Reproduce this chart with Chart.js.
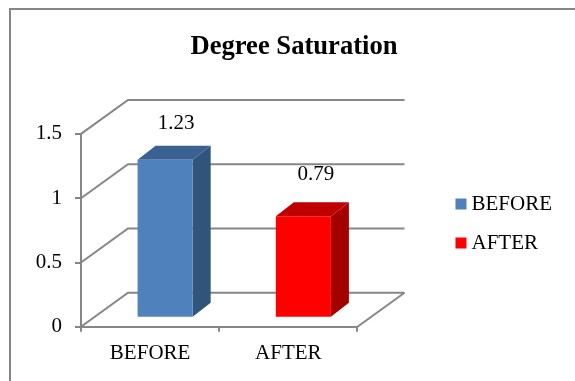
<!DOCTYPE html>
<html><head><meta charset="utf-8">
<style>html,body{margin:0;padding:0;background:#fff}canvas{display:block}</style>
<script src="https://cdn.jsdelivr.net/npm/chart.js@4"></script>
</head><body>
<canvas id="c" width="575" height="381"></canvas>
<script>
const categories = ["BEFORE", "AFTER"];
const beforeValues = [1.23, null];
const afterValues = [null, 0.79];
const seriesNames = ["BEFORE", "AFTER"];
const chartTitle = "Degree Saturation";

const GRID = "#868686", SERIF = "'Liberation Serif'";
const WALL = {dx: 47, dy: -34};      // depth of the 3D box
const SHIFT = {dx: 15, dy: -9};      // bars stand inside the floor
const BAR = {dx: 18, dy: -14};       // depth of a bar
const SHADES = [{side: "#31547B", top: "#3A6191"}, {side: "#A50000", top: "#BE0000"}];
const LABEL_NUDGE = [{dx: 11, dy: -36}, {dx: 12.5, dy: -42}];
const LEGEND_DROP = 36;

const threeD = {
  id: "threeD",
  afterLayout(chart) {
    chart.legend.top += LEGEND_DROP;
    chart.legend.bottom += LEGEND_DROP;
  },
  beforeDraw(chart) {
    const c = chart.ctx;
    c.save(); c.strokeStyle = GRID; c.lineWidth = 2;
    c.beginPath(); c.moveTo(10, 381); c.lineTo(10, 9); c.lineTo(575, 9); c.stroke();
    c.restore();
  },
  beforeDatasetsDraw(chart) {
    const c = chart.ctx, x = chart.scales.x, y = chart.scales.y;
    c.save(); c.strokeStyle = GRID; c.lineWidth = 2;
    y.ticks.forEach(t => {
      const py = y.getPixelForValue(t.value);
      c.beginPath();
      c.moveTo(x.left, py);
      c.lineTo(x.left + WALL.dx, py + WALL.dy);
      c.lineTo(x.right + WALL.dx, py + WALL.dy);
      c.stroke();
    });
    const p0 = y.getPixelForValue(0);
    c.beginPath(); c.moveTo(x.right, p0); c.lineTo(x.right + WALL.dx, p0 + WALL.dy); c.stroke();
    c.restore();
    // bars and their faces are shifted into the floor
    c.save(); c.translate(SHIFT.dx, SHIFT.dy);
    chart.data.datasets.forEach((ds, i) => {
      chart.getDatasetMeta(i).data.forEach((bar, j) => {
        if (ds.data[j] == null) return;
        const l = bar.x - bar.width / 2, r = bar.x + bar.width / 2, t = bar.y, b = bar.base;
        c.fillStyle = SHADES[i].side;
        c.beginPath(); c.moveTo(r, t); c.lineTo(r + BAR.dx, t + BAR.dy); c.lineTo(r + BAR.dx, b + BAR.dy); c.lineTo(r, b); c.closePath(); c.fill();
        c.fillStyle = SHADES[i].top;
        c.beginPath(); c.moveTo(l, t); c.lineTo(l + BAR.dx, t + BAR.dy); c.lineTo(r + BAR.dx, t + BAR.dy); c.lineTo(r, t); c.closePath(); c.fill();
      });
    });
  },
  afterDatasetsDraw(chart) {
    const c = chart.ctx;
    c.restore();
    c.save(); c.fillStyle = "#000"; c.font = "21px " + SERIF; c.textAlign = "center"; c.textBaseline = "middle";
    chart.data.datasets.forEach((ds, i) => {
      chart.getDatasetMeta(i).data.forEach((bar, j) => {
        if (ds.data[j] == null) return;
        c.fillText(String(ds.data[j]), bar.x + SHIFT.dx + LABEL_NUDGE[i].dx, bar.y + SHIFT.dy + LABEL_NUDGE[i].dy);
      });
    });
    c.restore();
  }
};

new Chart(document.getElementById("c"), {
  type: "bar",
  data: {
    labels: categories,
    datasets: [
      {label: seriesNames[0], data: beforeValues, backgroundColor: "#4F81BD", stack: "s"},
      {label: seriesNames[1], data: afterValues, backgroundColor: "#FF0000", stack: "s"}
    ]
  },
  options: {
    responsive: false, animation: false,
    layout: {padding: {left: 26, right: 13, top: 0, bottom: 6}},
    datasets: {bar: {categoryPercentage: 1, barPercentage: 55 / 138}},
    plugins: {
      title: {display: true, text: chartTitle, color: "#000",
        font: {family: SERIF, size: 26.6, weight: "bold"}, padding: {top: 31, bottom: 71}},
      legend: {position: "right", maxWidth: 200, labels: {color: "#000", font: {family: SERIF, size: 21},
        usePointStyle: true, pointStyle: "rect", boxWidth: 0.01, boxHeight: 11, padding: 18}},
      tooltip: {enabled: false}
    },
    scales: {
      x: {stacked: true, grid: {drawOnChartArea: false, color: GRID, lineWidth: 2, tickLength: 5, tickColor: GRID},
        border: {color: GRID, width: 2},
        ticks: {color: "#000", font: {family: SERIF, size: 21}, padding: 9, maxRotation: 0}},
      y: {min: 0, max: 1.5, stacked: true, grid: {drawOnChartArea: false, color: GRID, lineWidth: 2, tickLength: 6, tickColor: GRID},
        border: {color: GRID, width: 2},
        afterFit(s) { s.width = 55; },
        ticks: {stepSize: 0.5, color: "#000", font: {family: SERIF, size: 21}, padding: 13,
          callback: v => String(v)}},
      gap: {position: "right", display: true, grid: {display: false}, border: {display: false},
        ticks: {display: false}, afterFit(s) { s.width = 85.5; }}
    }
  },
  plugins: [threeD]
});
</script>
</body></html>
